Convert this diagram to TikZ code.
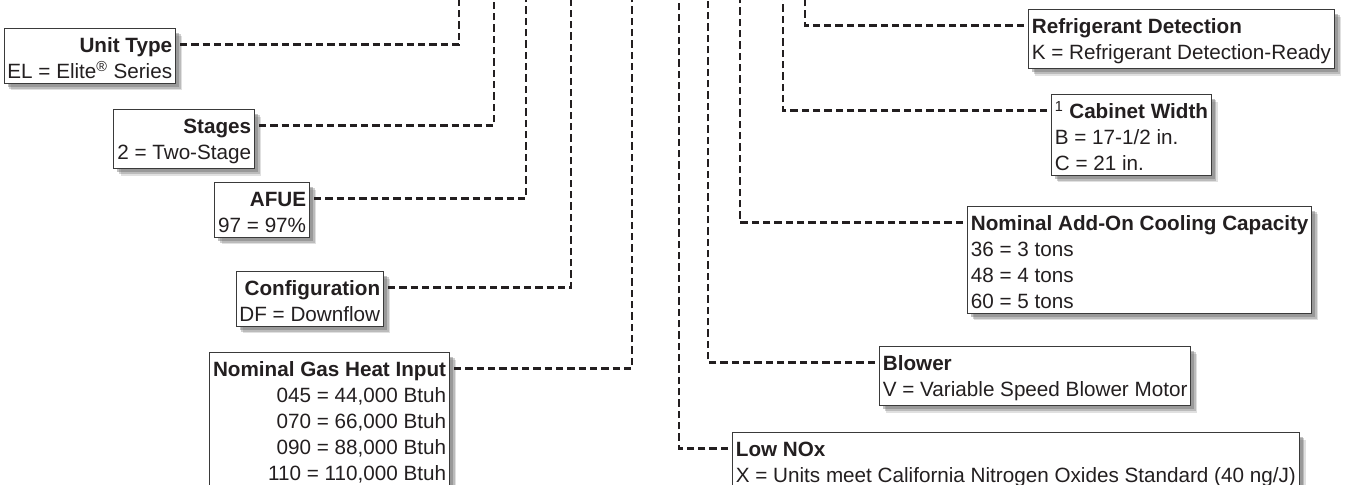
\documentclass[tikz,border=0pt]{standalone}
\usepackage{fontspec}
\setmainfont{Liberation Sans}
\usepackage{xcolor}
\usetikzlibrary{shadows}
\definecolor{textc}{HTML}{231F20}
\definecolor{linec}{HTML}{231F20}
\definecolor{boxc}{HTML}{3A3A3A}
\newcommand{\hdr}[1]{\rule{0pt}{14.3pt}\textbf{#1}}

\begin{document}
\begin{tikzpicture}[x=0.75pt,y=-0.75pt,
  codebox/.style={draw=boxc, line width=0.8pt, fill=white, text=textc,
    inner xsep=2.5pt, inner ysep=3.5pt, font=\fontsize{15.5}{19.5}\selectfont,
    drop shadow={shadow xshift=5pt, shadow yshift=-5.5pt, opacity=0.2, fill=black!60},
    drop shadow={shadow xshift=3.8pt, shadow yshift=-4.3pt, opacity=0.3, fill=black!60},
    drop shadow={shadow xshift=2.6pt, shadow yshift=-3pt, opacity=0.4, fill=black!60}},
  leftbox/.style={codebox, align=right, anchor=north east},
  rightbox/.style={codebox, align=left, anchor=north west},
  conn/.style={draw=linec, line width=1.7pt, dash pattern=on 5.5pt off 3pt}]
\useasboundingbox (0,0) rectangle (1353,485);
\clip (0,0) rectangle (1353,485);

% Tops of the code lines (they run off the picture)
\coordinate (ut-top) at (459,-5);
\coordinate (st-top) at (494,-5);
\coordinate (af-top) at (526,-5);
\coordinate (cf-top) at (571,-5);
\coordinate (gh-top) at (632,-5);
\coordinate (nx-top) at (679,-5);
\coordinate (bl-top) at (708,-5);
\coordinate (cc-top) at (740,-5);
\coordinate (cw-top) at (783,-5);
\coordinate (rd-top) at (805,-5);

% Left boxes
\node[leftbox] (unittype) at (176,28) {\hdr{Unit Type}\\EL = Elite\textsuperscript{®} Series};
\node[leftbox] (stages) at (255,109) {\hdr{Stages}\\2 = Two-Stage};
\node[leftbox] (afue) at (310,182) {\hdr{AFUE}\\97 = 97\%};
\node[leftbox] (config) at (384,271) {\hdr{Configuration}\\DF = Downflow};
\node[leftbox] (gasheat) at (450,352) {\hdr{Nominal Gas Heat Input}\\045 = 44,000 Btuh\\070 = 66,000 Btuh\\090 = 88,000 Btuh\\110 = 110,000 Btuh};

% Right boxes
\node[rightbox] (refrig) at (1028,9) {\hdr{Refrigerant Detection}\\K = Refrigerant Detection-Ready};
\node[rightbox] (cabinet) at (1051,94) {\rule{0pt}{14.3pt}\textsuperscript{1} \textbf{Cabinet Width}\\B = 17-1/2 in.\\C = 21 in.};
\node[rightbox] (cooling) at (967,206) {\hdr{Nominal Add-On Cooling Capacity}\\36 = 3 tons\\48 = 4 tons\\60 = 5 tons};
\node[rightbox] (blower) at (879,346) {\hdr{Blower}\\V = Variable Speed Blower Motor};
\node[rightbox] (lownox) at (732,432) {\hdr{Low NOx}\\X = Units meet California Nitrogen Oxides Standard (40 ng/J)};

% Connectors
\draw[conn] ([shift={(3pt,-12.3pt)}]unittype.north east) -| (ut-top);
\draw[conn] ([shift={(3pt,-12.3pt)}]stages.north east) -| (st-top);
\draw[conn] ([shift={(3pt,-12.3pt)}]afue.north east) -| (af-top);
\draw[conn] ([shift={(3pt,-12.3pt)}]config.north east) -| (cf-top);
\draw[conn] ([shift={(3pt,-12.3pt)}]gasheat.north east) -| (gh-top);
\draw[conn] ([shift={(-3pt,-12.3pt)}]lownox.north west) -| (nx-top);
\draw[conn] ([shift={(-3pt,-12.3pt)}]blower.north west) -| (bl-top);
\draw[conn] ([shift={(-3pt,-12.3pt)}]cooling.north west) -| (cc-top);
\draw[conn] ([shift={(-3pt,-12.3pt)}]cabinet.north west) -| (cw-top);
\draw[conn] ([shift={(-3pt,-12.3pt)}]refrig.north west) -| (rd-top);
\end{tikzpicture}
\end{document}
